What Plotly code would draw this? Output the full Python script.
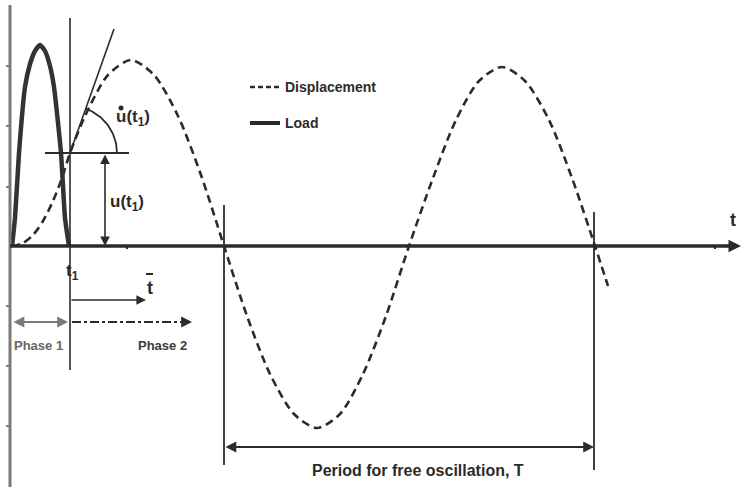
import numpy as np
import plotly.graph_objects as go

# ---- data (t in time units, u in displacement units) ----
disp_t = [12, 23, 33, 43, 53, 62, 70, 85, 108, 131, 154, 178, 201, 224, 247, 270, 294, 317,
          340, 363, 386, 409, 433, 456, 479, 502, 525, 549, 572, 595, 608]
disp_u = [0, 3, 11, 25, 45, 68, 93, 130, 171, 186, 171, 130, 71, 0, -70, -128, -168, -182,
          -168, -128, -70, 0, 68, 126, 165, 179, 165, 126, 68, 0, -40]
load_t = [12, 15, 19, 25, 30, 35, 40, 45, 50, 54, 61, 65, 69]
load_u = [0, 28, 93, 159, 182, 195, 201, 195, 180, 159, 93, 28, 0]
t1 = 70
u_t1 = 93
tangent_t = [70, 114]
tangent_u = [93, 217]
period_start = 224
period_end = 594
y_ticks = [180, 120, 59, -60, -120, -180]

DARK = "#2b2b2b"
GRAY = "#7a7a7a"
FONT = "Liberation Sans"

fig = go.Figure()

# displacement (dashed)
fig.add_trace(go.Scatter(x=disp_t, y=disp_u, mode="lines",
                         line=dict(color=DARK, width=2.6, dash="8px,5px", shape="spline", smoothing=0.8),
                         hoverinfo="skip", showlegend=False))
# load (thick solid)
fig.add_trace(go.Scatter(x=load_t, y=load_u, mode="lines",
                         line=dict(color="#333333", width=4.5, shape="spline", smoothing=0.5),
                         hoverinfo="skip", showlegend=False))
# tangent line
fig.add_trace(go.Scatter(x=tangent_t, y=tangent_u, mode="lines",
                         line=dict(color=DARK, width=1.6), hoverinfo="skip", showlegend=False))
# arc for slope angle
ang_end = np.arctan2(tangent_u[1] - tangent_u[0], tangent_t[1] - tangent_t[0])
ang = np.linspace(0, ang_end, 40)
r = 47
fig.add_trace(go.Scatter(x=t1 + r * np.cos(ang), y=u_t1 + r * np.sin(ang), mode="lines",
                         line=dict(color=DARK, width=1.8), hoverinfo="skip", showlegend=False))
# dot of u-dot
fig.add_trace(go.Scatter(x=[121], y=[138], mode="markers",
                         marker=dict(color=DARK, size=5), hoverinfo="skip", showlegend=False))

shapes = []
def line(x0, y0, x1, y1, color=DARK, width=2, dash="solid"):
    shapes.append(dict(type="line", x0=x0, y0=y0, x1=x1, y1=y1,
                       line=dict(color=color, width=width, dash=dash), layer="above"))

# axes
line(10, -241, 10, 241, GRAY, 3)
for yt in y_ticks:
    line(6, yt, 10, yt, GRAY, 2)
line(10, 0, 736, 0, DARK, 3.5)
line(127, 0, 127, -3, DARK, 2)
line(715, 0, 715, -3, DARK, 2)
# t1 line
line(t1, 228, t1, -124, DARK, 1.6)
# horizontal at u(t1)
line(45, u_t1, 129, u_t1, DARK, 1.8)
# period verticals
line(period_start, 41, period_start, -219, DARK, 1.8)
line(period_end, 34, period_end, -224, DARK, 1.8)
# phase 2 dash-dot
line(72, -76, 182, -76, DARK, 1.8, "dashdot")
# legend samples
line(250, 159, 280, 159, DARK, 2.4, "5px,3px")
line(250, 123, 280, 123, DARK, 4)
# t-bar overline
line(146, -28, 153, -28, DARK, 2)

fig.update_layout(shapes=shapes)

ann = []
def arrow(x, y, ax, ay, color=DARK, width=1.8, side="end", head=2, size=1.2):
    ann.append(dict(x=x, y=y, ax=ax, ay=ay, xref="x", yref="y", axref="x", ayref="y",
                    showarrow=True, arrowhead=head, arrowsize=size, arrowwidth=width,
                    arrowcolor=color, arrowside=side, startarrowhead=head, startarrowsize=size, text=""))

def text(x, y, s, size=14, color=DARK, xa="left", ya="middle"):
    ann.append(dict(x=x, y=y, xref="x", yref="y", text=s, showarrow=False, xanchor=xa, yanchor=ya,
                    font=dict(family=FONT, size=size, color=color)))

# axis arrow
arrow(741, 0, 725, 0, DARK, 2.5, head=2, size=1)
# u(t1) double arrow
arrow(105, 0, 105, u_t1, DARK, 1.6, side="end+start")
# t-bar arrow
arrow(146, -54, 70, -54, DARK, 1.6)
# phase 1 double arrow
arrow(68, -76, 12, -76, GRAY, 1.8, side="end+start")
# phase 2 arrow head
arrow(192, -76, 180, -76, DARK, 1.8)
# period arrow
arrow(period_end, -201, period_start, -201, DARK, 1.8, side="end+start")

text(283, 159, "<b>Displacement</b>", 14)
text(283, 123, "<b>Load</b>", 14)
text(108, 43, "<b>u(t<sub>1</sub>)</b>", 17)
text(114, 128, "<b>u(t<sub>1</sub>)</b>", 17)
text(72, -26, "<b>t<sub>1</sub></b>", 17, xa="center")
text(150, -42, "<b>t</b>", 18, xa="center")
text(733, 26, "<b>t</b>", 18, xa="center")
text(38, -99, "<b>Phase 1</b>", 13, color="#666666", xa="center")
text(162, -99, "<b>Phase 2</b>", 13, color="#3a3a3a", xa="center")
text(418, -224, "<b>Period for free oscillation, T</b>", 16, xa="center")

fig.update_layout(annotations=ann,
                  width=741, height=487, margin=dict(l=0, r=0, t=0, b=0),
                  paper_bgcolor="white", plot_bgcolor="white",
                  xaxis=dict(range=[0, 741], visible=False, fixedrange=True),
                  yaxis=dict(range=[-241, 246], visible=False, fixedrange=True),
                  showlegend=False)

fig.write_html("out.html")
